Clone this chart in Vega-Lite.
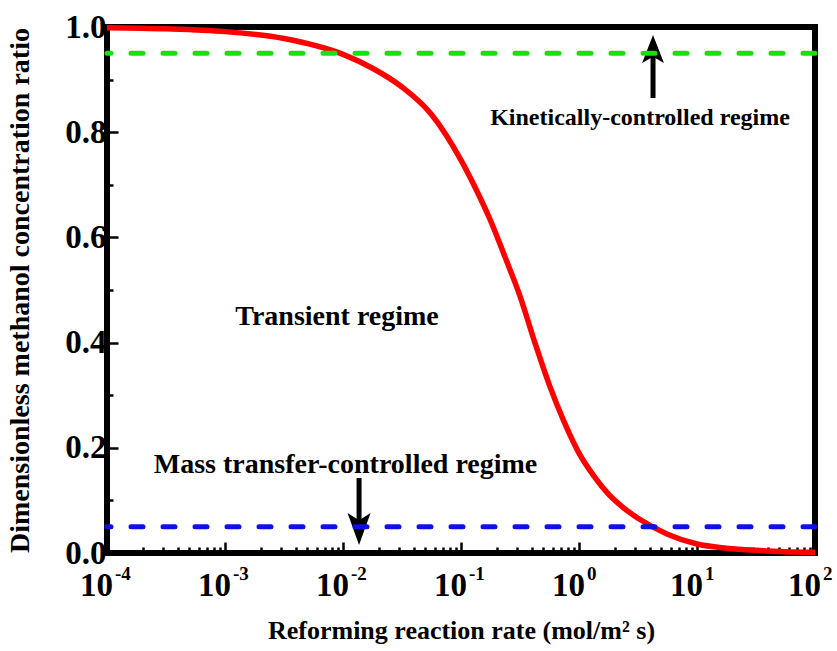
{
  "$schema": "https://vega.github.io/schema/vega-lite/v6.json",
  "width": 708,
  "height": 526,
  "autosize": {"type": "none"},
  "padding": {"left": 107, "top": 27, "right": 22, "bottom": 98},
  "background": "white",
  "config": {
    "view": {"stroke": "black", "strokeWidth": 6},
    "font": "Liberation Serif"
  },
  "datasets": {
    "curve": [
      {"rate": 0.0001, "ratio": 0.9986},
      {"rate": 0.000316, "ratio": 0.9965},
      {"rate": 0.001, "ratio": 0.9912},
      {"rate": 0.00316, "ratio": 0.9781},
      {"rate": 0.01, "ratio": 0.9479},
      {"rate": 0.01778, "ratio": 0.9216},
      {"rate": 0.03162, "ratio": 0.8859},
      {"rate": 0.05623, "ratio": 0.8337},
      {"rate": 0.1, "ratio": 0.7469},
      {"rate": 0.1334, "ratio": 0.6925},
      {"rate": 0.1778, "ratio": 0.6321},
      {"rate": 0.2371, "ratio": 0.5616},
      {"rate": 0.3162, "ratio": 0.4885},
      {"rate": 0.4217, "ratio": 0.4006},
      {"rate": 0.5623, "ratio": 0.3187},
      {"rate": 0.7499, "ratio": 0.2488},
      {"rate": 1, "ratio": 0.1899},
      {"rate": 1.334, "ratio": 0.1466},
      {"rate": 1.778, "ratio": 0.1118},
      {"rate": 2.371, "ratio": 0.0863},
      {"rate": 3.162, "ratio": 0.0661},
      {"rate": 5.623, "ratio": 0.0358},
      {"rate": 10, "ratio": 0.0171},
      {"rate": 17.78, "ratio": 0.0092},
      {"rate": 31.62, "ratio": 0.005},
      {"rate": 56.23, "ratio": 0.0025},
      {"rate": 100, "ratio": 0.0013}
    ],
    "levels": [
      {"ratio": 0.95, "regime": "kinetic"},
      {"ratio": 0.05, "regime": "mass"}
    ],
    "xlabels": [
      {"rate": 0.0001, "base": "10", "exp": "-4"},
      {"rate": 0.001, "base": "10", "exp": "-3"},
      {"rate": 0.01, "base": "10", "exp": "-2"},
      {"rate": 0.1, "base": "10", "exp": "-1"},
      {"rate": 1, "base": "10", "exp": "0"},
      {"rate": 10, "base": "10", "exp": "1"},
      {"rate": 100, "base": "10", "exp": "2"}
    ],
    "arrows": [
      {"rate": 4.24, "tail": 0.865, "end": 0.95, "head": 0.958, "dir": "up"},
      {"rate": 0.01368, "tail": 0.1426, "end": 0.06, "head": 0.0456, "dir": "down"}
    ],
    "notes": [
      {"rate": 3.29, "ratio": 0.814, "label": "Kinetically-controlled regime", "size": "small"},
      {"rate": 0.0089, "ratio": 0.433, "label": "Transient regime", "size": "large"},
      {"rate": 0.0105, "ratio": 0.152, "label": "Mass transfer-controlled regime", "size": "large"}
    ]
  },
  "layer": [
    {
      "data": {"name": "curve"},
      "mark": {"type": "line", "color": "#ff0000", "strokeWidth": 5.5, "interpolate": "monotone"},
      "encoding": {
        "x": {
          "field": "rate", "type": "quantitative",
          "scale": {"type": "log", "domain": [0.0001, 100], "nice": false},
          "axis": {
            "title": "Reforming reaction rate (mol/m² s)",
            "titleFont": "Liberation Serif", "titleFontWeight": "bold", "titleFontSize": 26, "titleColor": "black",
            "titlePadding": 63,
            "labels": false, "domain": false, "grid": false,
            "values": [0.0001,0.0002,0.0003,0.0004,0.0005,0.0006,0.0007,0.0008,0.0009,
                       0.001,0.002,0.003,0.004,0.005,0.006,0.007,0.008,0.009,
                       0.01,0.02,0.03,0.04,0.05,0.06,0.07,0.08,0.09,
                       0.1,0.2,0.3,0.4,0.5,0.6,0.7,0.8,0.9,
                       1,2,3,4,5,6,7,8,9,
                       10,20,30,40,50,60,70,80,90,100],
            "tickColor": "black", "tickWidth": 2.5,
            "tickSize": {"condition": {"test": "abs(log(datum.value)/LN10 - round(log(datum.value)/LN10)) < 0.001", "value": -11}, "value": -6}
          }
        },
        "y": {
          "field": "ratio", "type": "quantitative",
          "scale": {"domain": [0, 1], "nice": false},
          "axis": {
            "title": "Dimensionless methanol concentration ratio",
            "titleFont": "Liberation Serif", "titleFontWeight": "bold", "titleFontSize": 28, "titleColor": "black",
            "titlePadding": 30,
            "domain": false, "grid": false,
            "values": [0, 0.1, 0.2, 0.3, 0.4, 0.5, 0.6, 0.7, 0.8, 0.9, 1.0],
            "labelExpr": "round(datum.value*10) % 2 == 0 ? format(datum.value, '.1f') : ''",
            "labelFont": "Liberation Serif", "labelFontWeight": "bold", "labelFontSize": 33, "labelColor": "black",
            "labelPadding": 12,
            "tickColor": "black", "tickWidth": 2.5,
            "tickSize": {"condition": {"test": "round(datum.value*10) % 2 == 0", "value": -11}, "value": -6}
          }
        }
      }
    },
    {
      "data": {"name": "arrows"},
      "mark": {"type": "rule", "color": "black", "strokeWidth": 5},
      "encoding": {
        "x": {"field": "rate", "type": "quantitative"},
        "y": {"field": "tail", "type": "quantitative"},
        "y2": {"field": "end"}
      }
    },
    {
      "data": {"name": "arrows"},
      "transform": [{"filter": "datum.dir == 'up'"}],
      "mark": {"type": "point", "shape": "M0,-1L0.78,1L0,0.55L-0.78,1Z", "filled": true, "color": "black", "opacity": 1, "size": 784},
      "encoding": {
        "x": {"field": "rate", "type": "quantitative"},
        "y": {"field": "head", "type": "quantitative"}
      }
    },
    {
      "data": {"name": "arrows"},
      "transform": [{"filter": "datum.dir == 'down'"}],
      "mark": {"type": "point", "shape": "M0,1L0.72,-1L0,-0.55L-0.72,-1Z", "filled": true, "color": "black", "opacity": 1, "size": 1024},
      "encoding": {
        "x": {"field": "rate", "type": "quantitative"},
        "y": {"field": "head", "type": "quantitative"}
      }
    },
    {
      "data": {"name": "levels"},
      "transform": [{"filter": "datum.regime == 'kinetic'"}],
      "mark": {"type": "rule", "color": "#16e016", "strokeWidth": 5, "strokeDash": [12, 20], "strokeCap": "round"},
      "encoding": {"y": {"field": "ratio", "type": "quantitative"}}
    },
    {
      "data": {"name": "levels"},
      "transform": [{"filter": "datum.regime == 'mass'"}],
      "mark": {"type": "rule", "color": "#1010e0", "strokeWidth": 5, "strokeDash": [12, 20], "strokeCap": "round"},
      "encoding": {"y": {"field": "ratio", "type": "quantitative"}}
    },
    {
      "data": {"name": "notes"},
      "transform": [{"filter": "datum.size == 'large'"}],
      "mark": {"type": "text", "font": "Liberation Serif", "fontWeight": "bold", "fontSize": 28, "align": "center", "baseline": "alphabetic", "color": "black"},
      "encoding": {
        "x": {"field": "rate", "type": "quantitative"},
        "y": {"field": "ratio", "type": "quantitative"},
        "text": {"field": "label"}
      }
    },
    {
      "data": {"name": "notes"},
      "transform": [{"filter": "datum.size == 'small'"}],
      "mark": {"type": "text", "font": "Liberation Serif", "fontWeight": "bold", "fontSize": 24, "align": "center", "baseline": "alphabetic", "color": "black"},
      "encoding": {
        "x": {"field": "rate", "type": "quantitative"},
        "y": {"field": "ratio", "type": "quantitative"},
        "text": {"field": "label"}
      }
    },
    {
      "data": {"name": "xlabels"},
      "mark": {"type": "text", "font": "Liberation Serif", "fontWeight": "bold", "fontSize": 33, "align": "right", "baseline": "alphabetic", "dx": 6, "dy": 43, "color": "black"},
      "encoding": {
        "x": {"field": "rate", "type": "quantitative"},
        "y": {"datum": 0},
        "text": {"field": "base"}
      }
    },
    {
      "data": {"name": "xlabels"},
      "mark": {"type": "text", "font": "Liberation Serif", "fontWeight": "bold", "fontSize": 19, "align": "left", "baseline": "alphabetic", "dx": 8, "dy": 27, "color": "black"},
      "encoding": {
        "x": {"field": "rate", "type": "quantitative"},
        "y": {"datum": 0},
        "text": {"field": "exp"}
      }
    }
  ]
}
